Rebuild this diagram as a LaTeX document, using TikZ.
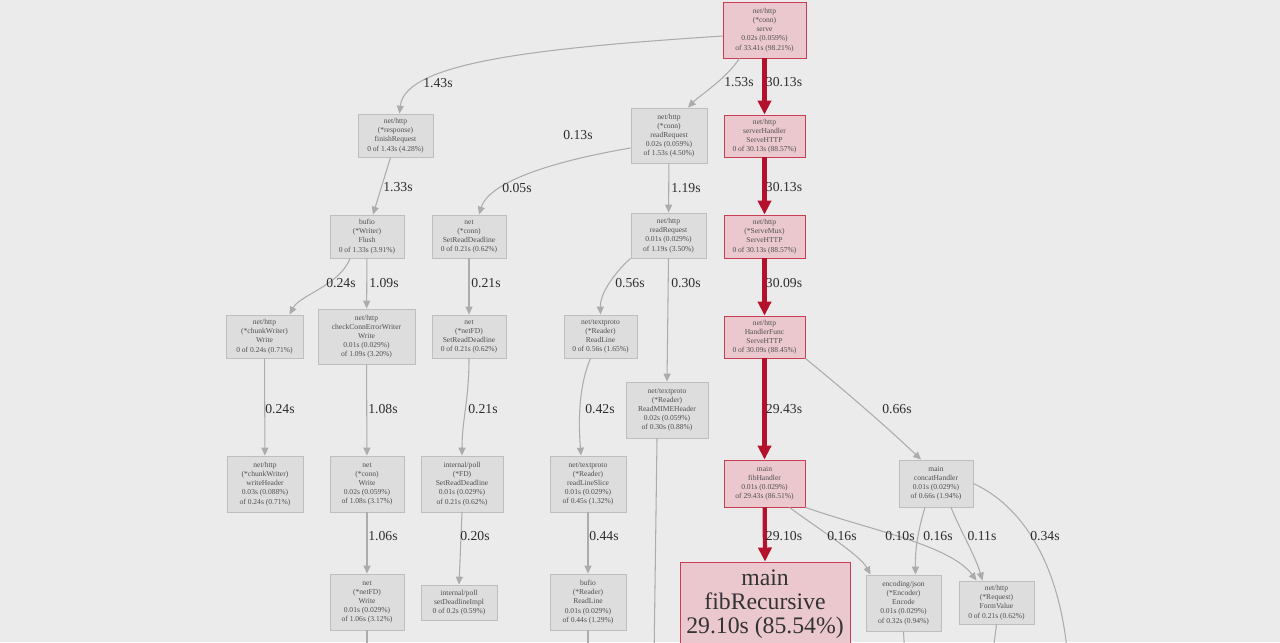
\documentclass[tikz,border=0pt]{standalone}
\usepackage{fontspec}
\setmainfont{Liberation Serif}
\usetikzlibrary{arrows.meta}

\definecolor{bgcol}{RGB}{235,235,235}
\definecolor{boxfill}{RGB}{221,221,221}
\definecolor{boxline}{RGB}{190,190,190}
\definecolor{boxtext}{RGB}{80,80,80}
\definecolor{hotfill}{RGB}{234,200,206}
\definecolor{hotline}{RGB}{200,60,84}
\definecolor{hotedge}{RGB}{180,18,44}
\definecolor{edgegray}{RGB}{172,172,172}
\definecolor{lbltext}{RGB}{45,45,45}

\tikzset{
  fn/.style={draw=boxline, fill=boxfill, text=boxtext, align=center, inner sep=1pt,
    line width=0.5pt, font=\fontsize{4.3}{5.2}\selectfont},
  hot/.style={fn, draw=hotline, fill=hotfill},
  call/.style={draw=edgegray, line width=0.6pt, -{Triangle[length=4.5pt,width=4pt]}},
  hotcall/.style={draw=hotedge, line width=2.4pt, -{Triangle[length=8pt,width=7.5pt]}},
  lbl/.style={text=lbltext, font=\fontsize{7.8}{8}\selectfont}
}

\begin{document}
\begin{tikzpicture}[x=0.02cm, y=-0.02cm]
    \fill[bgcol] (0,0) rectangle (1280,642);
    \useasboundingbox (0,0) rectangle (1280,642);
    \clip (0,0) rectangle (1280,642);

    % Top
    \node[hot, minimum width=1.66cm, minimum height=1.12cm] (serve) at (764.5,30) {net/http\\(*conn)\\serve\\0.02s (0.059\%)\\of 33.41s (98.21\%)};

    % Second row
    \node[fn, minimum width=1.5cm, minimum height=0.86cm] (finish) at (395.5,135.5) {net/http\\(*response)\\finishRequest\\0 of 1.43s (4.28\%)};
    \node[fn, minimum width=1.52cm, minimum height=1.1cm] (connread) at (669,135.5) {net/http\\(*conn)\\readRequest\\0.02s (0.059\%)\\of 1.53s (4.50\%)};
    \node[hot, minimum width=1.62cm, minimum height=0.84cm] (shandler) at (764.5,136) {net/http\\serverHandler\\ServeHTTP\\0 of 30.13s (88.57\%)};

    % Third row
    \node[fn, minimum width=1.48cm, minimum height=0.86cm] (flush) at (367,236.5) {bufio\\(*Writer)\\Flush\\0 of 1.33s (3.91\%)};
    \node[fn, minimum width=1.48cm, minimum height=0.86cm] (connsrd) at (469,236.5) {net\\(*conn)\\SetReadDeadline\\0 of 0.21s (0.62\%)};
    \node[fn, minimum width=1.5cm, minimum height=0.9cm] (readreq) at (668.5,235.5) {net/http\\readRequest\\0.01s (0.029\%)\\of 1.19s (3.50\%)};
    \node[hot, minimum width=1.62cm, minimum height=0.86cm] (mux) at (764.5,236.5) {net/http\\(*ServeMux)\\ServeHTTP\\0 of 30.13s (88.57\%)};

    % Fourth row
    \node[fn, minimum width=1.54cm, minimum height=0.86cm] (cwwrite) at (264.5,336.5) {net/http\\(*chunkWriter)\\Write\\0 of 0.24s (0.71\%)};
    \node[fn, minimum width=1.94cm, minimum height=1.1cm] (cceww) at (366.5,336.5) {net/http\\checkConnErrorWriter\\Write\\0.01s (0.029\%)\\of 1.09s (3.20\%)};
    \node[fn, minimum width=1.48cm, minimum height=0.86cm] (fdsrd) at (469,336.5) {net\\(*netFD)\\SetReadDeadline\\0 of 0.21s (0.62\%)};
    \node[fn, minimum width=1.46cm, minimum height=0.86cm] (tpreadline) at (600.5,336.5) {net/textproto\\(*Reader)\\ReadLine\\0 of 0.56s (1.65\%)};
    \node[hot, minimum width=1.62cm, minimum height=0.84cm] (hfunc) at (764.5,337) {net/http\\HandlerFunc\\ServeHTTP\\0 of 30.09s (88.45\%)};
    \node[fn, minimum width=1.64cm, minimum height=1.12cm] (mime) at (667,410) {net/textproto\\(*Reader)\\ReadMIMEHeader\\0.02s (0.059\%)\\of 0.30s (0.88\%)};

    % Fifth row
    \node[fn, minimum width=1.52cm, minimum height=1.12cm] (wheader) at (265,484) {net/http\\(*chunkWriter)\\writeHeader\\0.03s (0.088\%)\\of 0.24s (0.71\%)};
    \node[fn, minimum width=1.48cm, minimum height=1.12cm] (connwrite) at (367,484) {net\\(*conn)\\Write\\0.02s (0.059\%)\\of 1.08s (3.17\%)};
    \node[fn, minimum width=1.64cm, minimum height=1.12cm] (pollsrd) at (462,484) {internal/poll\\(*FD)\\SetReadDeadline\\0.01s (0.029\%)\\of 0.21s (0.62\%)};
    \node[fn, minimum width=1.52cm, minimum height=1.12cm] (rlslice) at (588,484) {net/textproto\\(*Reader)\\readLineSlice\\0.01s (0.029\%)\\of 0.45s (1.32\%)};
    \node[hot, minimum width=1.62cm, minimum height=0.94cm] (fibh) at (764.5,483.5) {main\\fibHandler\\0.01s (0.029\%)\\of 29.43s (86.51\%)};
    \node[fn, minimum width=1.48cm, minimum height=0.94cm] (concath) at (936,483.5) {main\\concatHandler\\0.01s (0.029\%)\\of 0.66s (1.94\%)};

    % Bottom row
    \node[fn, minimum width=1.48cm, minimum height=1.12cm] (fdwrite) at (367,602) {net\\(*netFD)\\Write\\0.01s (0.029\%)\\of 1.06s (3.12\%)};
    \node[fn, minimum width=1.52cm, minimum height=0.7cm] (deadline) at (459,602.5) {internal/poll\\setDeadlineImpl\\0 of 0.2s (0.59\%)};
    \node[fn, minimum width=1.52cm, minimum height=1.12cm] (bufrl) at (588,602) {bufio\\(*Reader)\\ReadLine\\0.01s (0.029\%)\\of 0.44s (1.29\%)};
    \node[hot, text=black!80, minimum width=3.4cm, minimum height=1.7cm, font=\fontsize{13.5}{13.6}\selectfont] (fibrec) at (765,604.5) {main\\fibRecursive\\29.10s (85.54\%)};
    \node[fn, minimum width=1.5cm, minimum height=1.12cm] (encjson) at (903.5,603) {encoding/json\\(*Encoder)\\Encode\\0.01s (0.029\%)\\of 0.32s (0.94\%)};
    \node[fn, minimum width=1.5cm, minimum height=0.86cm] (formval) at (996.5,602.5) {net/http\\(*Request)\\FormValue\\0 of 0.21s (0.62\%)};

    % Ends below the frame
    \coordinate (offmime) at (654,660);
    \coordinate (offfdw) at (367,660);
    \coordinate (offbuf) at (588,660);
    \coordinate (offenc) at (905,660);
    \coordinate (offform) at (992,660);
    \coordinate (offcat) at (1068,660);

    % Hot path
    \draw[hotcall] (serve) -- (shandler);
    \draw[hotcall] (shandler) -- (mux);
    \draw[hotcall] (mux) -- (hfunc);
    \draw[hotcall] (hfunc) -- (fibh);
    \draw[hotcall] (fibh) -- (fibrec.north);

    % Other calls
    \draw[call] ([yshift=-0.12cm]serve.west) .. controls (540,48) and (405,62) .. ([xshift=0.08cm]finish.north);
    \draw[call] ([xshift=-0.5cm]serve.south) .. controls (725,80) and (700,95) .. ([xshift=0.38cm]connread.north);
    \draw[call] ([yshift=-0.25cm]connread.west) .. controls (560,160) and (490,180) .. ([xshift=0.2cm]connsrd.north);
    \draw[call] ([xshift=-0.1cm]finish.south) -- ([xshift=0.12cm]flush.north);
    \draw[call] (connread) -- (readreq);
    \draw[call] ([xshift=-0.34cm]flush.south) .. controls (340,285) and (300,295) .. ([xshift=0.5cm]cwwrite.north);
    \draw[call] (flush) -- (cceww);
    \draw[call] (connsrd) -- (fdsrd);
    \draw[call] (readreq.south west) .. controls (612,275) and (600,295) .. (tpreadline.north);
    \draw[call] (readreq.south) -- (mime.north);
    \draw[call] (cwwrite) -- (wheader);
    \draw[call] (cceww) -- (connwrite);
    \draw[call] (fdsrd.south) .. controls (469,400) and (462,420) .. (pollsrd.north);
    \draw[call] ([xshift=-0.2cm]tpreadline.south) .. controls (577,390) and (579,430) .. ([xshift=-0.14cm]rlslice.north);
    \draw[call] (hfunc.south east) .. controls (850,395) and (890,430) .. ([xshift=-0.3cm]concath.north);
    \draw[call] (connwrite) -- (fdwrite);
    \draw[call] (pollsrd.south) -- (deadline.north);
    \draw[call] (rlslice) -- (bufrl);
    \draw[call] ([xshift=0.5cm]fibh.south) .. controls (820,530) and (860,555) .. ([xshift=-0.66cm]encjson.north);
    \draw[call] (fibh.south east) .. controls (870,530) and (950,545) .. ([xshift=-0.4cm]formval.north);
    \draw[call] ([xshift=-0.22cm]concath.south) .. controls (918,530) and (915,550) .. ([xshift=0.24cm]encjson.north);
    \draw[call] ([xshift=0.3cm]concath.south) .. controls (960,530) and (975,555) .. ([xshift=-0.28cm]formval.north);

    % Calls leaving the frame
    \draw[edgegray, line width=0.6pt] ([xshift=-0.2cm]mime.south) -- (offmime);
    \draw[edgegray, line width=0.6pt] (fdwrite.south) -- (offfdw);
    \draw[edgegray, line width=0.6pt] (bufrl.south) -- (offbuf);
    \draw[edgegray, line width=0.6pt] (encjson.south) -- (offenc);
    \draw[edgegray, line width=0.6pt] (formval.south) -- (offform);
    \draw[edgegray, line width=0.6pt] (concath.east) .. controls (1020,505) and (1060,560) .. (offcat);

    % Edge labels
    \node[lbl] (l1) at (438,83) {1.43s};
    \node[lbl] (l2) at (739,82) {1.53s};
    \node[lbl] (l3) at (784,82) {30.13s};
    \node[lbl] (l4) at (578,135) {0.13s};
    \node[lbl] (l5) at (517,188) {0.05s};
    \node[lbl] (l6) at (398,187) {1.33s};
    \node[lbl] (l7) at (686,188) {1.19s};
    \node[lbl] (l8) at (784,187) {30.13s};
    \node[lbl] (l9) at (341,283) {0.24s};
    \node[lbl] (l10) at (384,283) {1.09s};
    \node[lbl] (l11) at (486,283) {0.21s};
    \node[lbl] (l12) at (630,283) {0.56s};
    \node[lbl] (l13) at (686,283) {0.30s};
    \node[lbl] (l14) at (784,283) {30.09s};
    \node[lbl] (l15) at (280,409) {0.24s};
    \node[lbl] (l16) at (383,409) {1.08s};
    \node[lbl] (l17) at (483,409) {0.21s};
    \node[lbl] (l18) at (600,409) {0.42s};
    \node[lbl] (l19) at (784,409) {29.43s};
    \node[lbl] (l20) at (897,409) {0.66s};
    \node[lbl] (l21) at (383,536) {1.06s};
    \node[lbl] (l22) at (475,536) {0.20s};
    \node[lbl] (l23) at (604,536) {0.44s};
    \node[lbl] (l24) at (784,536) {29.10s};
    \node[lbl] (l25) at (842,536) {0.16s};
    \node[lbl] (l26) at (900,536) {0.10s};
    \node[lbl] (l27) at (938,536) {0.16s};
    \node[lbl] (l28) at (982,536) {0.11s};
    \node[lbl] (l29) at (1045,536) {0.34s};
\end{tikzpicture}
\end{document}
